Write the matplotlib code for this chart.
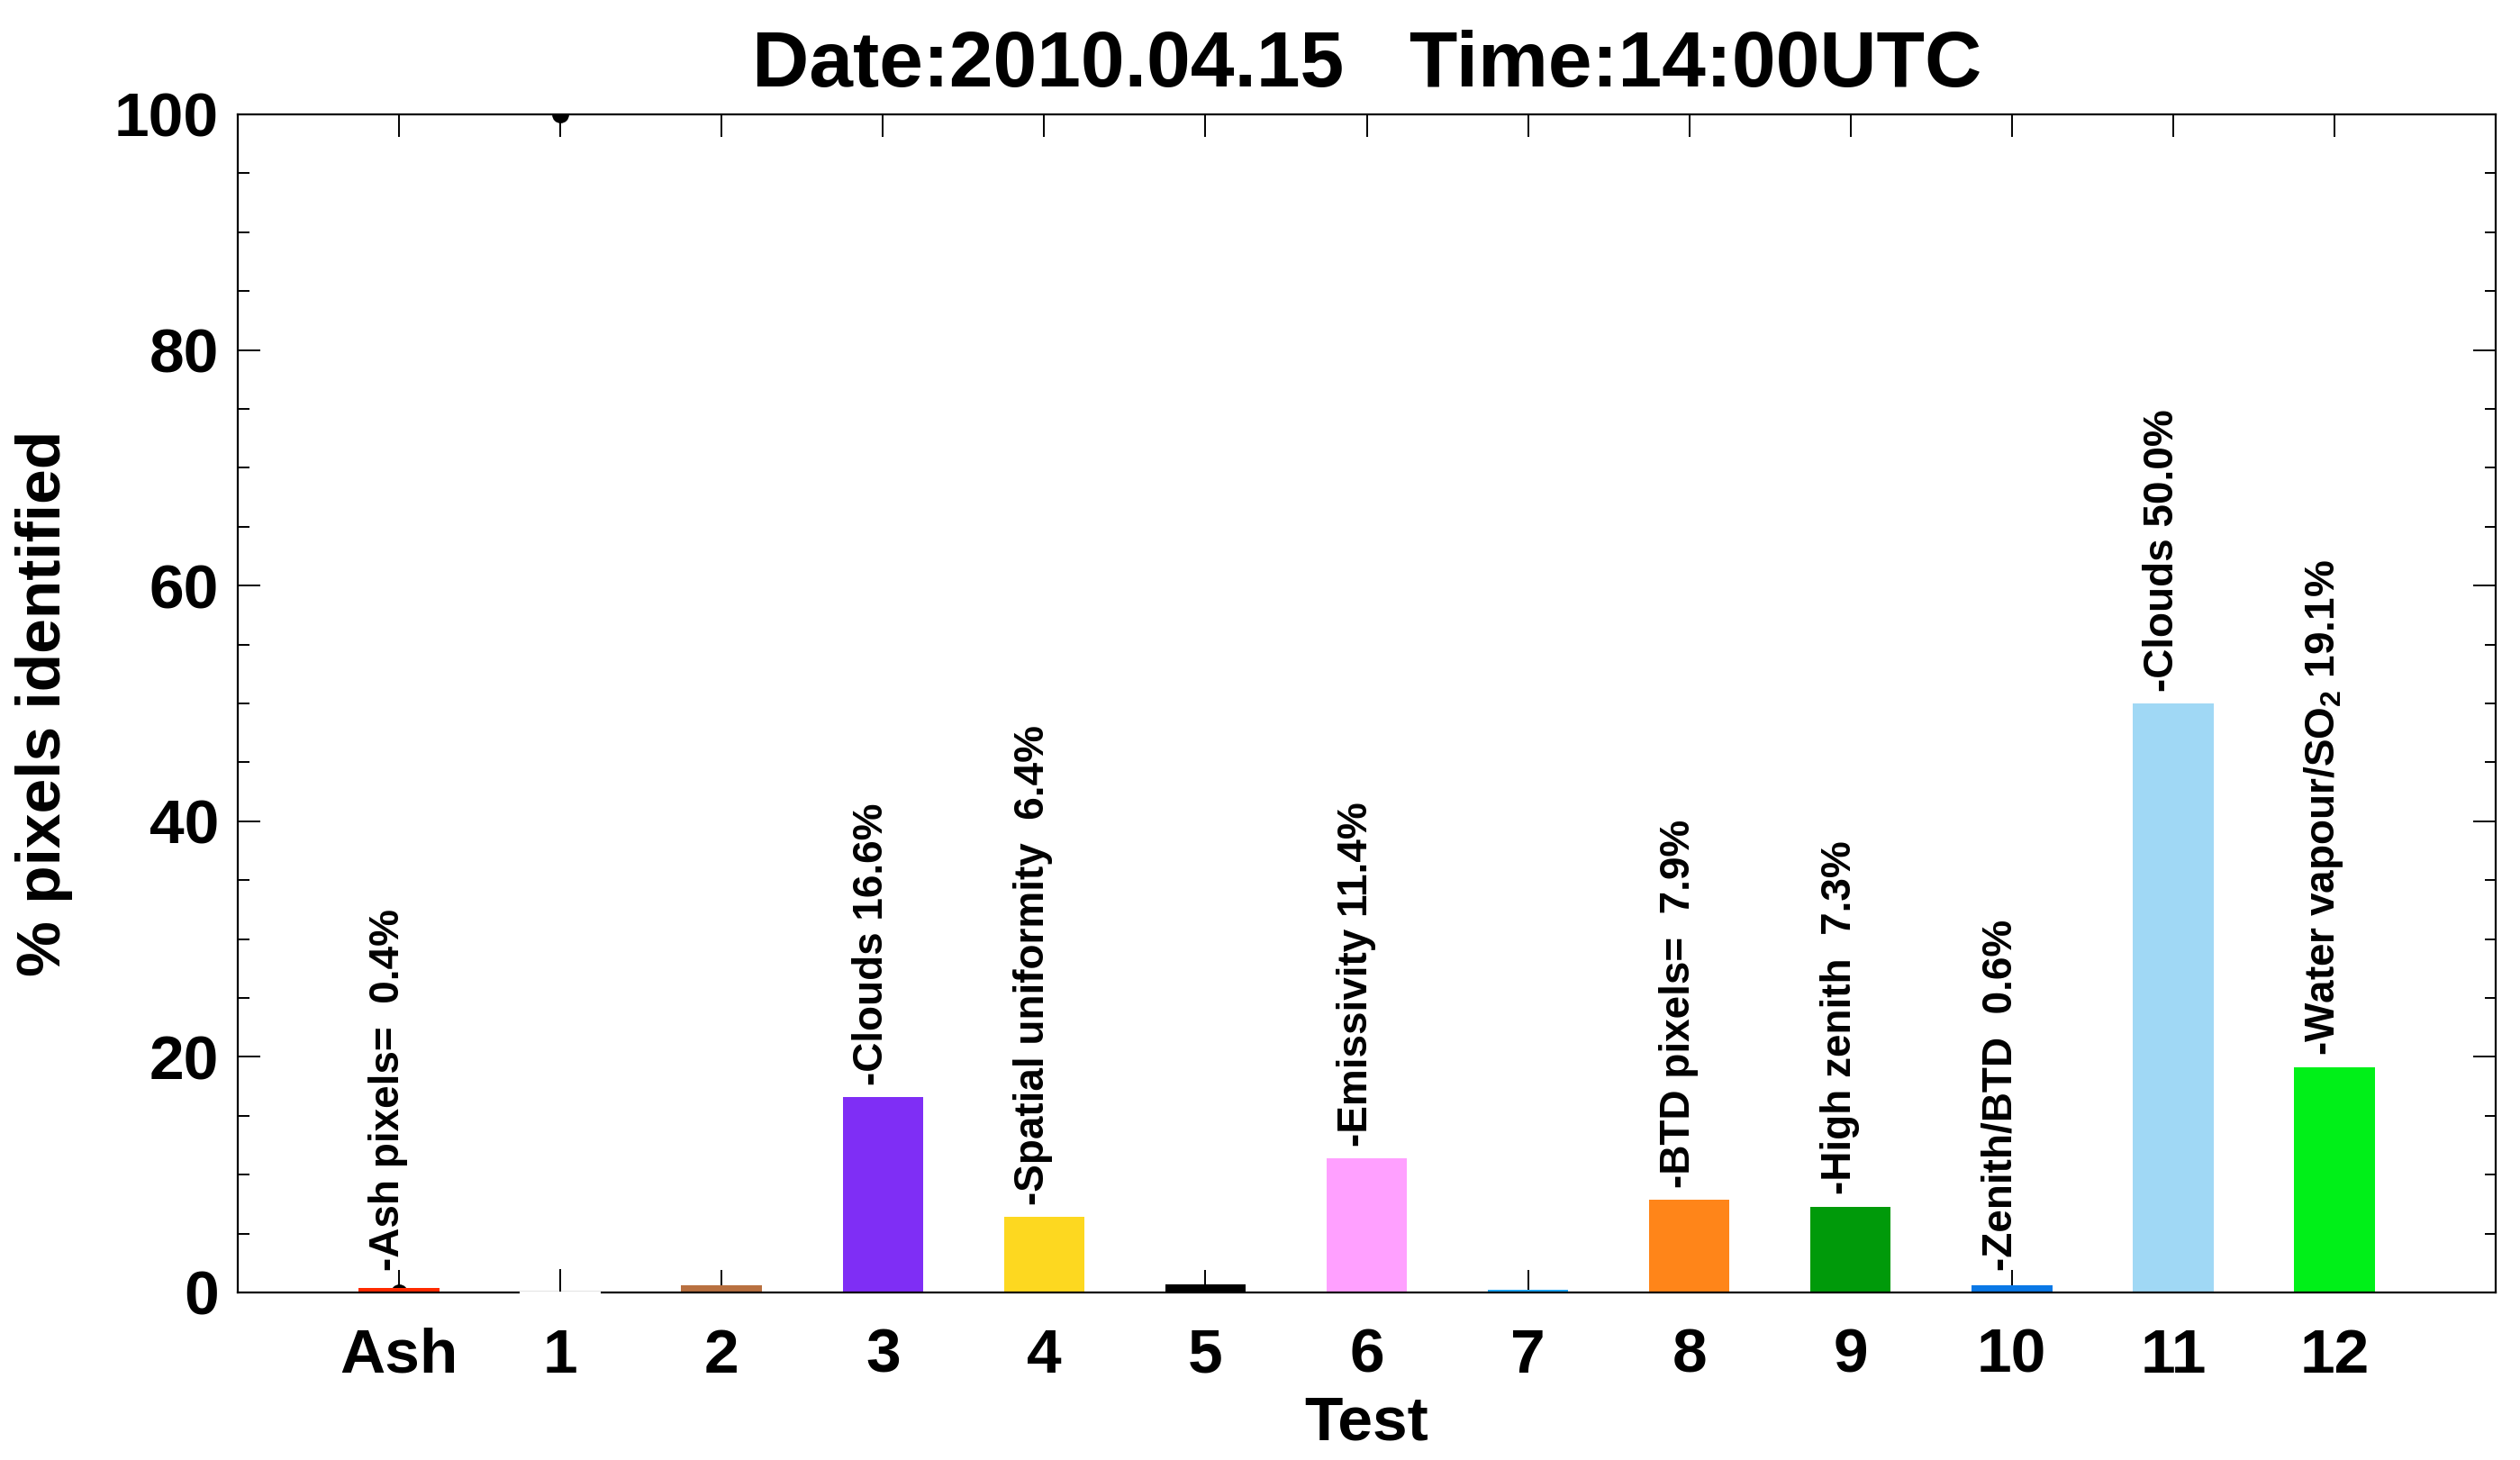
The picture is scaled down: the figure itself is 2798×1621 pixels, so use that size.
import numpy as np
import matplotlib
matplotlib.use('Agg')
import matplotlib.pyplot as plt
from matplotlib.ticker import MultipleLocator

plt.rcParams['font.family'] = ['Liberation Sans', 'DejaVu Sans']
plt.rcParams['font.weight'] = 'bold'
plt.rcParams['mathtext.default'] = 'regular'

# data
tests = ['Ash', '1', '2', '3', '4', '5', '6', '7', '8', '9', '10', '11', '12']
percent = [0.4, 0.0, 0.6, 16.6, 6.4, 0.7, 11.4, 0.2, 7.9, 7.3, 0.6, 50.0, 19.1]
bar_colors = ['#ff2a00', '#ffffff', '#b87040', '#7f2ef5', '#fdd820', '#000000',
              '#ffa0ff', '#20a8f8', '#ff8519', '#009a0a', '#0a78e6', '#a0d8f5', '#00f018']
bar_text = ['-Ash pixels=  0.4%', '', '', '-Clouds 16.6%', '-Spatial uniformity  6.4%', '',
            '-Emissivity 11.4%', '', '-BTD pixels=  7.9%', '-High zenith  7.3%',
            '-Zenith/BTD  0.6%', '-Clouds 50.0%', '-Water vapour/SO$_2$ 19.1%']
dot_x = [0, 1]
dot_y = [0, 100]

fig = plt.figure(figsize=(27.98, 16.21), dpi=100)
ax = fig.add_axes([264/2798, 186/1621, 2507/2798, 1308/1621])

x = np.arange(len(tests))
ax.set_axisbelow(True)
ax.plot(dot_x, dot_y, 'o', color='k', ms=13.5, mew=0, zorder=0.9)
ax.bar(x, percent, width=0.5, color=bar_colors, zorder=1)
# white test-1 bar breaks the base line
ax.bar(x[1], 0.4, width=0.5, bottom=-0.3, color=bar_colors[1], zorder=3, clip_on=False)
# tick at test 1 stays visible above the break
ax.plot([x[1], x[1]], [0.15, 1.9], color='k', lw=1.4, zorder=3.1)

for i in range(len(tests)):
    if bar_text[i] == '':
        continue
    ax.text(x[i], max(percent[i], 0.8) + 1.0, bar_text[i], rotation=90,
            rotation_mode='anchor', ha='left', va='baseline', fontsize=33,
            fontweight='bold')

ax.set_xlim(-1, 13)
ax.set_ylim(0, 100)
ax.set_xticks(x)
ax.set_xticklabels(tests)
ax.yaxis.set_major_locator(MultipleLocator(20))
ax.yaxis.set_minor_locator(MultipleLocator(5))
ax.tick_params(axis='x', direction='in', length=18, width=1.4, top=True,
               labelsize=50, pad=28)
ax.tick_params(axis='y', which='major', direction='in', length=18, width=1.4,
               right=True, labelsize=50, pad=15)
ax.tick_params(axis='y', which='minor', direction='in', length=9, width=1.4, right=True)
for t in ax.get_xticklabels() + ax.get_yticklabels():
    t.set_fontweight('bold')
for s in ax.spines.values():
    s.set_linewidth(1.6)

ax.set_xlabel('Test', fontsize=50, fontweight='bold')
ax.xaxis.set_label_coords(0.5, -0.087)
ax.set_ylabel('% pixels identified', fontsize=50, fontweight='bold')
ax.yaxis.set_label_coords(-0.0728, 0.5)
ax.set_title('Date:2010.04.15   Time:14:00UTC', fontsize=63, fontweight='bold',
             y=1.0237, pad=0)

fig.savefig('out.png', dpi=100)
